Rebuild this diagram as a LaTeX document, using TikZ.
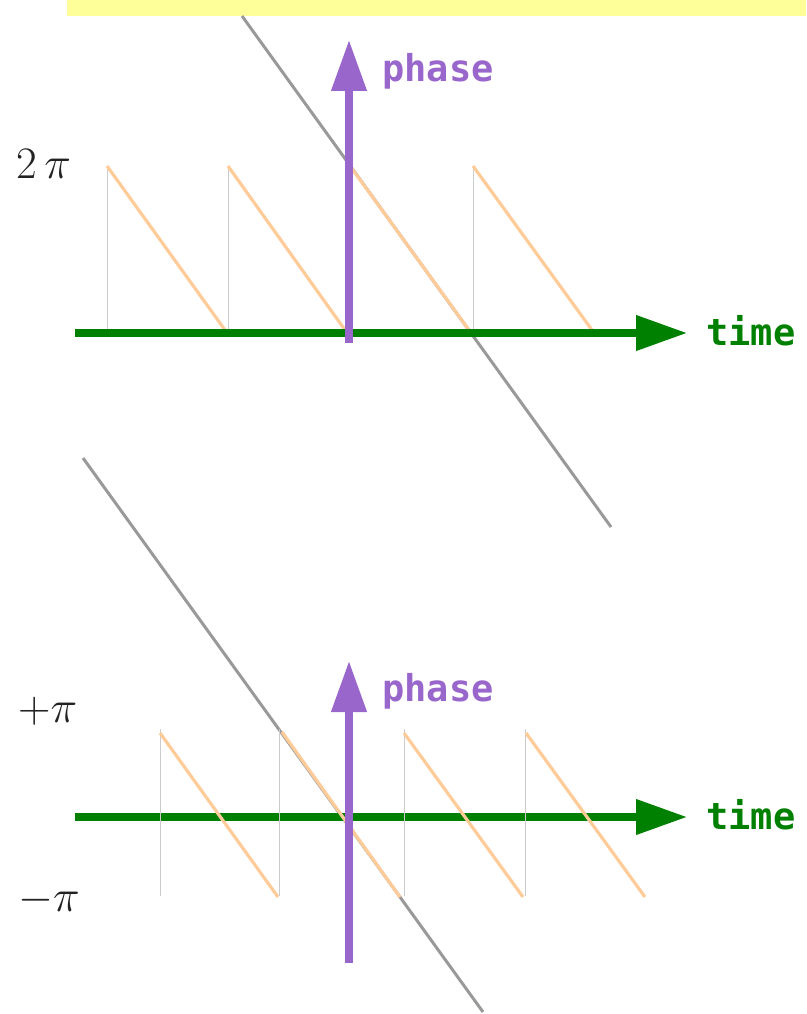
\documentclass[tikz,border=0pt]{standalone}
\usepackage{fix-cm}
\usepackage{fontspec}
\newfontfamily\labelfont{DejaVu Sans Mono}
\usetikzlibrary{arrows.meta}
\definecolor{bandyellow}{HTML}{FFFF99}
\definecolor{phasepurple}{HTML}{9966CC}
\definecolor{timegreen}{HTML}{008000}
\definecolor{saworange}{HTML}{FFCC99}
\definecolor{refgray}{HTML}{999999}
\definecolor{tickgray}{HTML}{CCCCCC}
\definecolor{mathtext}{HTML}{222222}
\tikzset{
  timeaxis/.style={draw=timegreen, line width=7.3pt, -{Triangle[length=51pt,width=34pt]}},
  phaseaxis/.style={draw=phasepurple, line width=7.5pt, -{Triangle[length=51pt,width=34pt]}},
  refline/.style={draw=refgray, line width=3pt},
  sawline/.style={draw=saworange, line width=3.2pt},
  tickline/.style={draw=tickgray, line width=1pt},
  axlabel/.style={font=\labelfont\bfseries\fontsize{37}{40}\selectfont, inner sep=0pt, anchor=base west},
  phaselabel/.style={axlabel, text=phasepurple},
  timelabel/.style={axlabel, text=timegreen},
  valuelabel/.style={font=\fontsize{45}{50}\selectfont, text=mathtext, inner sep=0pt, anchor=base west}
}
\begin{document}
\begin{tikzpicture}[x=1pt,y=-1pt]
\useasboundingbox (0,0) rectangle (806,1014);
% yellow band
\fill[bandyellow] (67,0) rectangle (806,16);

% ===== top diagram =====
\coordinate (g1a) at (242,16);
\coordinate (g1b) at (611,527);
\draw[refline] (g1a) -- (g1b);
\foreach \x in {107,228,473} {
  \draw[tickline] (\x,166) -- (\x,330);
}
\coordinate (s1a) at (107,166); \coordinate (s1b) at (225,330);
\coordinate (s2a) at (228,166); \coordinate (s2b) at (345,330);
\coordinate (s3a) at (350,166); \coordinate (s3b) at (469,330);
\coordinate (s4a) at (473,166); \coordinate (s4b) at (592,330);
\draw[sawline] (s1a) -- (s1b);
\draw[sawline] (s2a) -- (s2b);
\draw[sawline] (s3a) -- (s3b);
\draw[sawline] (s4a) -- (s4b);
\coordinate (t1start) at (75,333);
\coordinate (t1end) at (687,333);
\draw[timeaxis] (t1start) -- (t1end);
\coordinate (p1start) at (349,343);
\coordinate (p1end) at (349,40);
\draw[phaseaxis] (p1start) -- (p1end);
\node[phaselabel] (phase1) at (382,82) {phase};
\node[timelabel] (time1) at (706,345) {time};
\node[valuelabel] (twopi) at (16,178) {$2\,\pi$};

% ===== bottom diagram =====
\coordinate (g2a) at (83,458);
\coordinate (g2b) at (483,1012);
\draw[refline] (g2a) -- (g2b);
\coordinate (t2start) at (75,817);
\coordinate (t2end) at (687,817);
\draw[timeaxis] (t2start) -- (t2end);
\foreach \x in {160,279,404,525} {
  \draw[tickline] (\x,729) -- (\x,896);
}
\coordinate (u1a) at (160,733); \coordinate (u1b) at (278,897);
\coordinate (u2a) at (282,732); \coordinate (u2b) at (400,897);
\coordinate (u3a) at (404,733); \coordinate (u3b) at (523,897);
\coordinate (u4a) at (526,733); \coordinate (u4b) at (645,897);
\draw[sawline] (u1a) -- (u1b);
\draw[sawline] (u2a) -- (u2b);
\draw[sawline] (u3a) -- (u3b);
\draw[sawline] (u4a) -- (u4b);
\coordinate (p2start) at (349,963);
\coordinate (p2end) at (349,661);
\draw[phaseaxis] (p2start) -- (p2end);
\node[phaselabel] (phase2) at (382,701) {phase};
\node[timelabel] (time2) at (706,829) {time};
\node[valuelabel] (pluspi) at (18,722) {$+\pi$};
\node[valuelabel] (minuspi) at (18,911) {$-\pi$};
\end{tikzpicture}
\end{document}
